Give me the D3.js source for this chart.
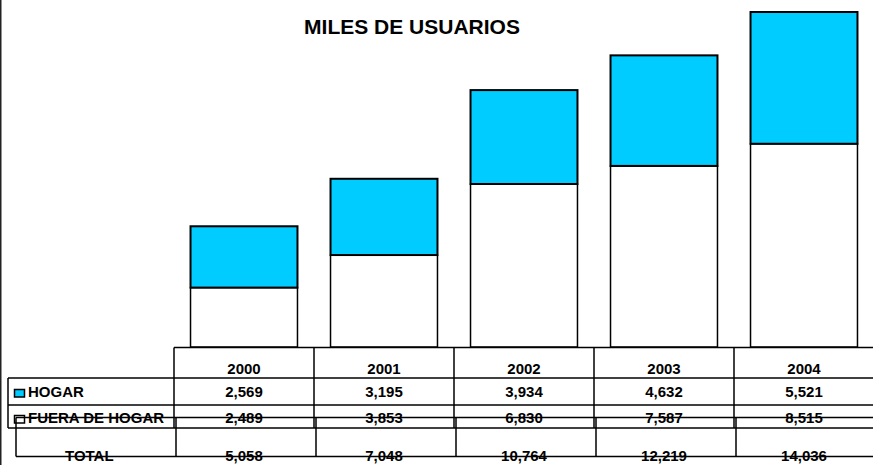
<!DOCTYPE html>
<html>
<head>
<meta charset="utf-8">
<script src="https://cdn.jsdelivr.net/npm/d3@7"></script>
<style>
  body { margin: 0; background: #fff; }
  svg { display: block; font-family: "Liberation Sans", Arial, sans-serif; }
</style>
</head>
<body>
<svg id="chart" width="873" height="465"></svg>
<script>
const years = ['2000', '2001', '2002', '2003', '2004'];
const hogar = [2569, 3195, 3934, 4632, 5521];
const fueraHogar = [2489, 3853, 6830, 7587, 8515];
const totals = [5058, 7048, 10764, 12219, 14036];
const seriesNames = ['HOGAR', 'FUERA DE HOGAR'];

const svg = d3.select('#chart');
const width = 873, height = 465;
const base = 347;
const fmt = d3.format(',');

const rows = years.map((y, i) => ({ year: y, fuera: fueraHogar[i], hogar: hogar[i] }));
const stack = d3.stack().keys(['fuera', 'hogar'])(rows);

const x = d3.scaleBand().domain(years).range([174, 874])
  .paddingInner(0.236).paddingOuter(0.118);
const col = d3.scaleBand().domain(years).range([174, 874]);
const colTotal = d3.scaleBand().domain(years).range([176, 876]);
const y = d3.scaleLinear().domain([0, d3.max(totals)]).range([base, 12]);

// left frame line
svg.append('line').attr('x1', 0.75).attr('x2', 0.75).attr('y1', 0).attr('y2', height)
  .attr('stroke', '#222').attr('stroke-width', 1.5);

// title
svg.append('text').attr('x', 412).attr('y', 34).attr('text-anchor', 'middle')
  .attr('font-size', 21).attr('font-weight', 'bold').text('MILES DE USUARIOS');

// bars
const fills = { fuera: '#ffffff', hogar: '#00ccff' };
svg.selectAll('g.layer').data(stack).enter().append('g')
  .attr('class', 'layer')
  .attr('fill', d => fills[d.key])
  .selectAll('rect').data(d => d).enter().append('rect')
  .attr('x', d => x(d.data.year))
  .attr('width', x.bandwidth())
  .attr('y', d => y(d[1]))
  .attr('height', d => y(d[0]) - y(d[1]))
  .attr('stroke', '#000')
  .attr('stroke-width', function() { return this.parentNode.__data__.key === 'hogar' ? 2 : 1.5; });

// data table
const t = svg.append('g').attr('stroke', '#000').attr('stroke-width', 1.5);
const hLine = (x1, x2, yy) => t.append('line').attr('x1', x1).attr('x2', x2).attr('y1', yy).attr('y2', yy);
const vLine = (xx, y1, y2) => t.append('line').attr('x1', xx).attr('x2', xx).attr('y1', y1).attr('y2', y2);

hLine(174, width, 347.5);
hLine(8, width, 378);
hLine(8, width, 405);
hLine(8, width, 428);
vLine(8, 378, 428);
years.forEach(yr => vLine(col(yr), 347.5, 428));

// total row (offset table)
hLine(16, width, 417.5);
hLine(16, width, 456.5);
vLine(16, 417.5, 456.5);
years.forEach(yr => vLine(colTotal(yr), 417.5, 456.5));

const txt = svg.append('g').attr('font-size', 15).attr('font-weight', 'bold').attr('fill', '#000');

txt.selectAll('text.yr').data(years).enter().append('text')
  .attr('x', d => col(d) + col.bandwidth() / 2).attr('y', 374)
  .attr('text-anchor', 'middle').text(d => d);

txt.selectAll('text.h').data(hogar).enter().append('text')
  .attr('x', (d, i) => col(years[i]) + col.bandwidth() / 2).attr('y', 397)
  .attr('text-anchor', 'middle').text(d => fmt(d));

txt.selectAll('text.f').data(fueraHogar).enter().append('text')
  .attr('x', (d, i) => col(years[i]) + col.bandwidth() / 2).attr('y', 423)
  .attr('text-anchor', 'middle').text(d => fmt(d));

txt.selectAll('text.t').data(totals).enter().append('text')
  .attr('x', (d, i) => col(years[i]) + col.bandwidth() / 2).attr('y', 461)
  .attr('text-anchor', 'middle').text(d => fmt(d));

// row labels with legend keys
const legendFill = ['#00ccff', '#ffffff'];
const legendY = [397, 423];
seriesNames.forEach((name, i) => {
  svg.append('rect').attr('x', 14.5).attr('y', legendY[i] - 7.5).attr('width', 10).attr('height', 7.5)
    .attr('fill', legendFill[i]).attr('stroke', '#000').attr('stroke-width', 1.5);
  txt.append('text').attr('x', 28).attr('y', legendY[i]).text(name);
});
txt.append('text').attr('x', 65).attr('y', 461).text('TOTAL');

// redraw crossing lines over text like the original
t.raise();
</script>
</body>
</html>
